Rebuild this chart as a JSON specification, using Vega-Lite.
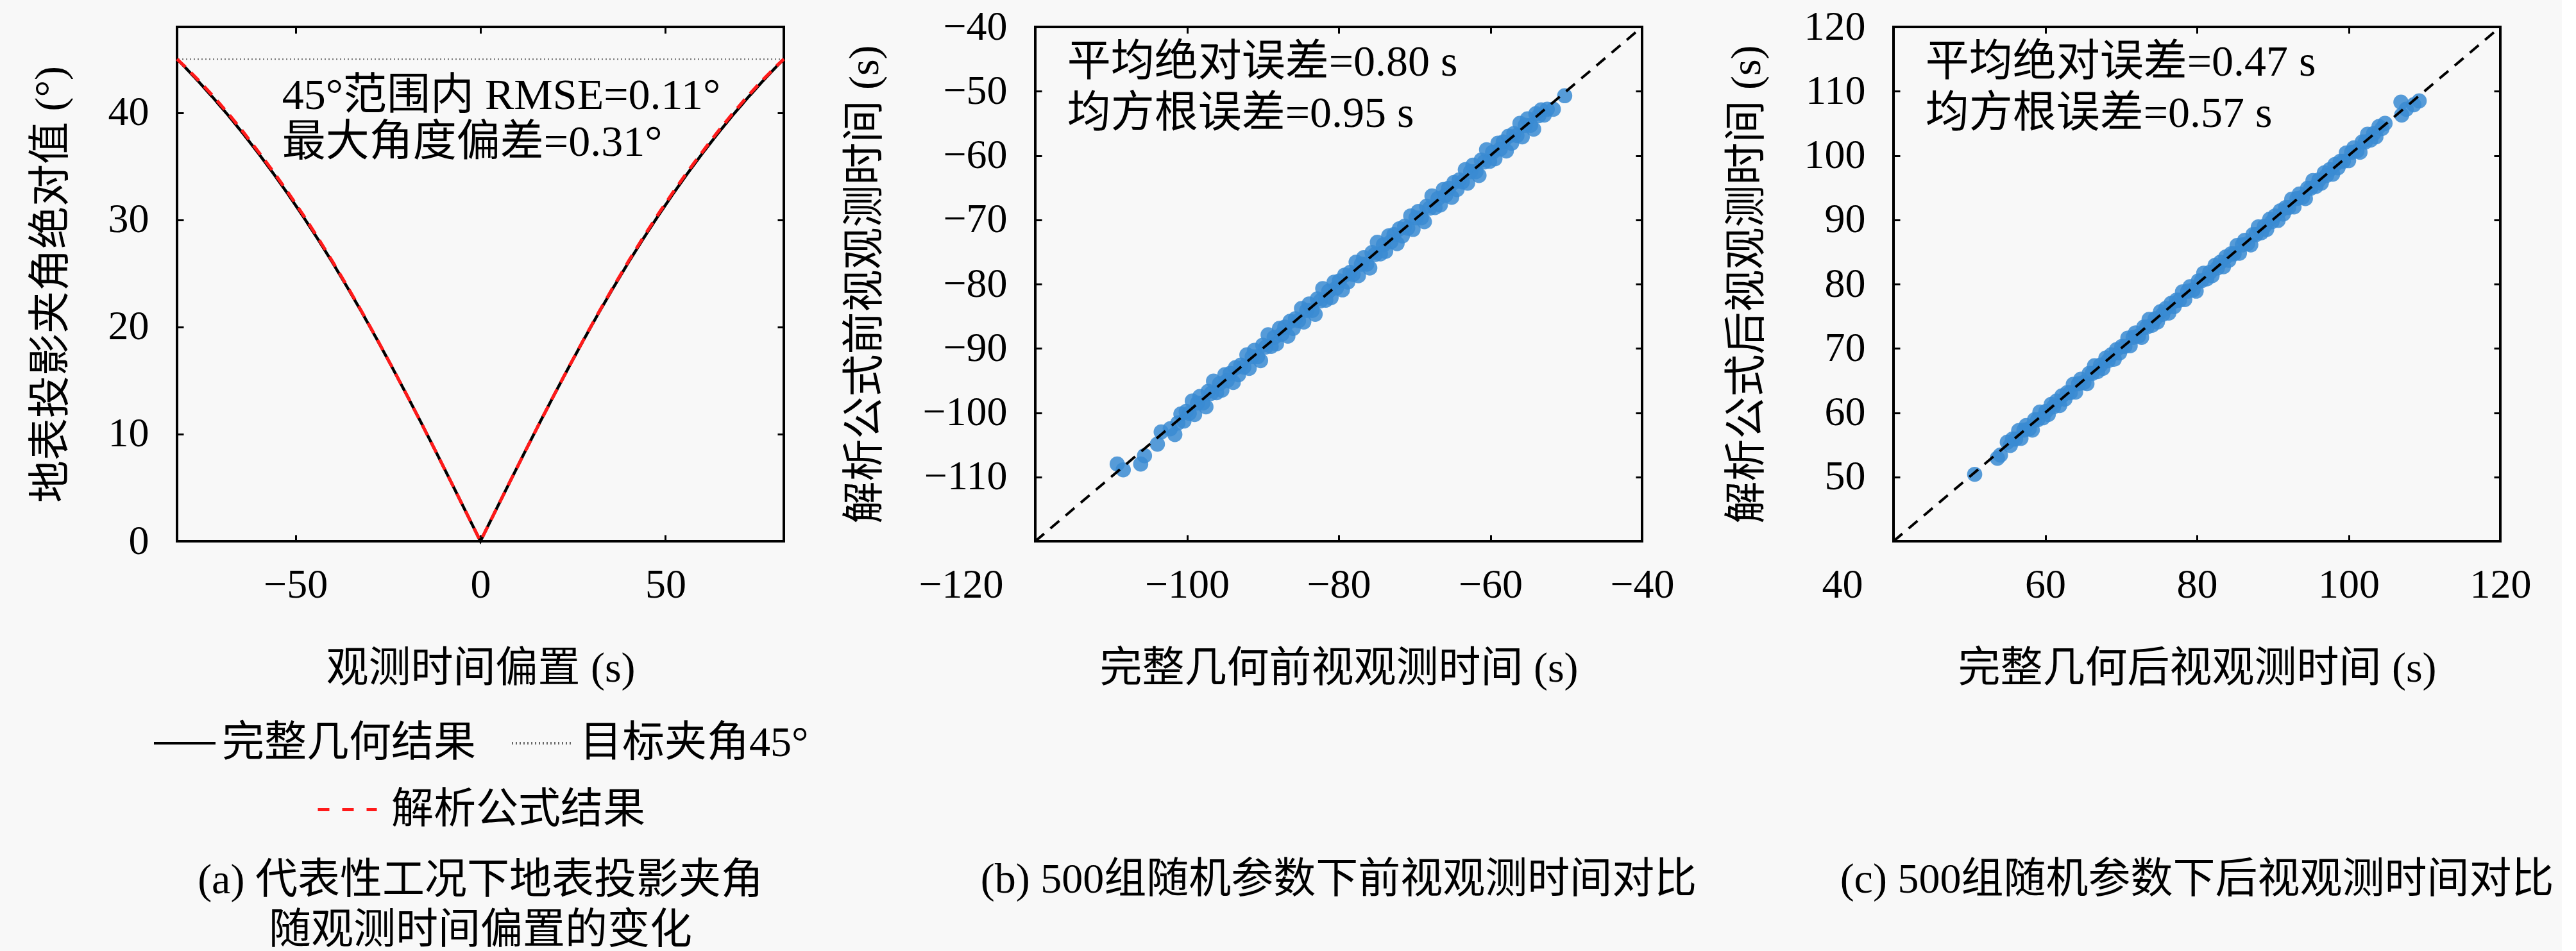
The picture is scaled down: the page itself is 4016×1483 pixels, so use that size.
{
"$schema":"https://vega.github.io/schema/vega-lite/v6.json",
"background":"#f8f8f8",
"padding":{"left":44,"top":8,"right":10,"bottom":0},
"bounds":"flush",
"spacing":392,
"resolve":{"scale":{"color":"independent","strokeDash":"independent","stroke":"independent"},"legend":{"color":"independent","strokeDash":"independent","stroke":"independent"}},
"datasets":{
"curve":[
{"x":-82,"y":45.0,"series":"完整几何结果"},{"x":-80,"y":44.30,"series":"完整几何结果"},{"x":-76,"y":42.83,"series":"完整几何结果"},{"x":-72,"y":41.29,"series":"完整几何结果"},{"x":-68,"y":39.68,"series":"完整几何结果"},{"x":-64,"y":37.98,"series":"完整几何结果"},{"x":-60,"y":36.20,"series":"完整几何结果"},{"x":-56,"y":34.34,"series":"完整几何结果"},{"x":-52,"y":32.39,"series":"完整几何结果"},{"x":-48,"y":30.35,"series":"完整几何结果"},{"x":-44,"y":28.23,"series":"完整几何结果"},{"x":-40,"y":26.02,"series":"完整几何结果"},{"x":-36,"y":23.71,"series":"完整几何结果"},{"x":-32,"y":21.33,"series":"完整几何结果"},{"x":-28,"y":18.86,"series":"完整几何结果"},{"x":-24,"y":16.32,"series":"完整几何结果"},{"x":-20,"y":13.71,"series":"完整几何结果"},{"x":-16,"y":11.05,"series":"完整几何结果"},{"x":-12,"y":8.33,"series":"完整几何结果"},{"x":-8,"y":5.57,"series":"完整几何结果"},{"x":-4,"y":2.79,"series":"完整几何结果"},{"x":0,"y":0,"series":"完整几何结果"},{"x":4,"y":2.79,"series":"完整几何结果"},{"x":8,"y":5.57,"series":"完整几何结果"},{"x":12,"y":8.33,"series":"完整几何结果"},{"x":16,"y":11.05,"series":"完整几何结果"},{"x":20,"y":13.71,"series":"完整几何结果"},{"x":24,"y":16.32,"series":"完整几何结果"},{"x":28,"y":18.86,"series":"完整几何结果"},{"x":32,"y":21.33,"series":"完整几何结果"},{"x":36,"y":23.71,"series":"完整几何结果"},{"x":40,"y":26.02,"series":"完整几何结果"},{"x":44,"y":28.23,"series":"完整几何结果"},{"x":48,"y":30.35,"series":"完整几何结果"},{"x":52,"y":32.39,"series":"完整几何结果"},{"x":56,"y":34.34,"series":"完整几何结果"},{"x":60,"y":36.20,"series":"完整几何结果"},{"x":64,"y":37.98,"series":"完整几何结果"},{"x":68,"y":39.68,"series":"完整几何结果"},{"x":72,"y":41.29,"series":"完整几何结果"},{"x":76,"y":42.83,"series":"完整几何结果"},{"x":80,"y":44.30,"series":"完整几何结果"},{"x":82,"y":45.0,"series":"完整几何结果"},
{"x":-82,"y":45.0,"series":"解析公式结果"},{"x":-80,"y":44.35,"series":"解析公式结果"},{"x":-76,"y":42.95,"series":"解析公式结果"},{"x":-72,"y":41.45,"series":"解析公式结果"},{"x":-68,"y":39.85,"series":"解析公式结果"},{"x":-64,"y":38.15,"series":"解析公式结果"},{"x":-60,"y":36.35,"series":"解析公式结果"},{"x":-56,"y":34.50,"series":"解析公式结果"},{"x":-52,"y":32.55,"series":"解析公式结果"},{"x":-48,"y":30.50,"series":"解析公式结果"},{"x":-44,"y":28.36,"series":"解析公式结果"},{"x":-40,"y":26.12,"series":"解析公式结果"},{"x":-36,"y":23.79,"series":"解析公式结果"},{"x":-32,"y":21.38,"series":"解析公式结果"},{"x":-28,"y":18.89,"series":"解析公式结果"},{"x":-24,"y":16.33,"series":"解析公式结果"},{"x":-20,"y":13.71,"series":"解析公式结果"},{"x":-16,"y":11.04,"series":"解析公式结果"},{"x":-12,"y":8.32,"series":"解析公式结果"},{"x":-8,"y":5.57,"series":"解析公式结果"},{"x":-4,"y":2.79,"series":"解析公式结果"},{"x":0,"y":0,"series":"解析公式结果"},{"x":4,"y":2.79,"series":"解析公式结果"},{"x":8,"y":5.57,"series":"解析公式结果"},{"x":12,"y":8.32,"series":"解析公式结果"},{"x":16,"y":11.04,"series":"解析公式结果"},{"x":20,"y":13.71,"series":"解析公式结果"},{"x":24,"y":16.33,"series":"解析公式结果"},{"x":28,"y":18.89,"series":"解析公式结果"},{"x":32,"y":21.38,"series":"解析公式结果"},{"x":36,"y":23.79,"series":"解析公式结果"},{"x":40,"y":26.12,"series":"解析公式结果"},{"x":44,"y":28.36,"series":"解析公式结果"},{"x":48,"y":30.50,"series":"解析公式结果"},{"x":52,"y":32.55,"series":"解析公式结果"},{"x":56,"y":34.50,"series":"解析公式结果"},{"x":60,"y":36.35,"series":"解析公式结果"},{"x":64,"y":38.15,"series":"解析公式结果"},{"x":68,"y":39.85,"series":"解析公式结果"},{"x":72,"y":41.45,"series":"解析公式结果"},{"x":76,"y":42.95,"series":"解析公式结果"},{"x":80,"y":44.35,"series":"解析公式结果"},{"x":82,"y":45.0,"series":"解析公式结果"}
],
"target":[{"y":45,"series":"目标夹角45°"}],
"one":[{"k":1}],
"diag_b":[{"x":-120,"y":-120},{"x":-40,"y":-40}],
"diag_c":[{"x":40,"y":40},{"x":120,"y":120}],
"pts_b":[
{"geo":-109.2,"ana":-108.0},{"geo":-108.4,"ana":-108.9},{"geo":-106.1,"ana":-108.0},{"geo":-105.6,"ana":-106.7},{"geo":-103.9,"ana":-104.9},{"geo":-103.4,"ana":-103.0},{"geo":-102.2,"ana":-102.5},{"geo":-101.6,"ana":-103.4},{"geo":-101.2,"ana":-101.6},
{"geo":-100.8,"ana":-100.2},{"geo":-100.4,"ana":-101.3},{"geo":-100.1,"ana":-99.8},{"geo":-99.7,"ana":-100.1},{"geo":-99.3,"ana":-98.2},{"geo":-99.0,"ana":-100.3},{"geo":-98.6,"ana":-98.5},{"geo":-98.3,"ana":-97.5},{"geo":-97.9,"ana":-98.5},{"geo":-97.5,"ana":-99.1},{"geo":-97.2,"ana":-96.7},{"geo":-96.8,"ana":-97.0},{"geo":-96.5,"ana":-95.1},{"geo":-96.1,"ana":-96.9},{"geo":-95.7,"ana":-95.5},{"geo":-95.4,"ana":-96.5},{"geo":-95.0,"ana":-94.1},{"geo":-94.7,"ana":-95.0},{"geo":-94.3,"ana":-93.9},{"geo":-93.9,"ana":-95.3},
{"geo":-93.6,"ana":-93.0},{"geo":-93.2,"ana":-94.1},{"geo":-92.9,"ana":-92.6},{"geo":-92.5,"ana":-92.9},{"geo":-92.1,"ana":-91.0},{"geo":-91.8,"ana":-93.1},{"geo":-91.4,"ana":-91.3},{"geo":-91.1,"ana":-90.3},{"geo":-90.7,"ana":-91.3},{"geo":-90.3,"ana":-91.9},{"geo":-90.0,"ana":-89.5},{"geo":-89.6,"ana":-89.8},{"geo":-89.3,"ana":-87.9},{"geo":-88.9,"ana":-89.7},{"geo":-88.5,"ana":-88.3},{"geo":-88.2,"ana":-89.3},{"geo":-87.8,"ana":-86.9},{"geo":-87.5,"ana":-87.8},{"geo":-87.1,"ana":-86.7},{"geo":-86.7,"ana":-88.1},
{"geo":-86.4,"ana":-85.8},{"geo":-86.0,"ana":-86.9},{"geo":-85.7,"ana":-85.4},{"geo":-85.3,"ana":-85.7},{"geo":-84.9,"ana":-83.8},{"geo":-84.6,"ana":-85.9},{"geo":-84.2,"ana":-84.1},{"geo":-83.9,"ana":-83.1},{"geo":-83.5,"ana":-84.1},{"geo":-83.1,"ana":-84.7},{"geo":-82.8,"ana":-82.3},{"geo":-82.4,"ana":-82.6},{"geo":-82.1,"ana":-80.7},{"geo":-81.7,"ana":-82.5},{"geo":-81.3,"ana":-81.1},{"geo":-81.0,"ana":-82.1},{"geo":-80.6,"ana":-79.7},{"geo":-80.3,"ana":-80.6},{"geo":-79.9,"ana":-79.5},{"geo":-79.5,"ana":-80.9},
{"geo":-79.2,"ana":-78.6},{"geo":-78.8,"ana":-79.7},{"geo":-78.5,"ana":-78.2},{"geo":-78.1,"ana":-78.5},{"geo":-77.7,"ana":-76.6},{"geo":-77.4,"ana":-78.7},{"geo":-77.0,"ana":-76.9},{"geo":-76.7,"ana":-75.9},{"geo":-76.3,"ana":-76.9},{"geo":-75.9,"ana":-77.5},{"geo":-75.6,"ana":-75.1},{"geo":-75.2,"ana":-75.4},{"geo":-74.9,"ana":-73.5},{"geo":-74.5,"ana":-75.3},{"geo":-74.1,"ana":-73.9},{"geo":-73.8,"ana":-74.9},{"geo":-73.4,"ana":-72.5},{"geo":-73.1,"ana":-73.4},{"geo":-72.7,"ana":-72.3},{"geo":-72.3,"ana":-73.7},
{"geo":-72.0,"ana":-71.4},{"geo":-71.6,"ana":-72.5},{"geo":-71.3,"ana":-71.0},{"geo":-70.9,"ana":-71.3},{"geo":-70.5,"ana":-69.4},{"geo":-70.2,"ana":-71.5},{"geo":-69.8,"ana":-69.7},{"geo":-69.5,"ana":-68.7},{"geo":-69.1,"ana":-69.7},{"geo":-68.7,"ana":-70.3},{"geo":-68.4,"ana":-67.9},{"geo":-68.0,"ana":-68.2},{"geo":-67.7,"ana":-66.3},{"geo":-67.3,"ana":-68.1},{"geo":-66.9,"ana":-66.7},{"geo":-66.6,"ana":-67.7},{"geo":-66.2,"ana":-65.3},{"geo":-65.9,"ana":-66.2},{"geo":-65.5,"ana":-65.1},{"geo":-65.1,"ana":-66.5},
{"geo":-64.8,"ana":-64.2},{"geo":-64.4,"ana":-65.3},{"geo":-64.1,"ana":-63.8},{"geo":-63.7,"ana":-64.1},{"geo":-63.3,"ana":-62.2},{"geo":-63.0,"ana":-64.3},{"geo":-62.6,"ana":-62.5},{"geo":-62.3,"ana":-61.5},{"geo":-61.9,"ana":-62.5},{"geo":-61.5,"ana":-63.1},{"geo":-61.2,"ana":-60.7},{"geo":-60.8,"ana":-61.0},{"geo":-60.5,"ana":-59.1},{"geo":-60.1,"ana":-60.9},{"geo":-59.7,"ana":-59.5},{"geo":-59.4,"ana":-60.5},{"geo":-59.0,"ana":-58.1},{"geo":-58.7,"ana":-59.0},{"geo":-58.3,"ana":-57.9},{"geo":-57.9,"ana":-59.3},
{"geo":-57.6,"ana":-57.0},{"geo":-57.2,"ana":-58.1},{"geo":-56.9,"ana":-56.6},{"geo":-56.5,"ana":-56.9},{"geo":-56.1,"ana":-55.0},{"geo":-55.8,"ana":-57.1},{"geo":-55.4,"ana":-55.3},{"geo":-55.1,"ana":-54.3},{"geo":-54.7,"ana":-55.3},{"geo":-54.3,"ana":-55.9},{"geo":-54.0,"ana":-53.5},{"geo":-53.6,"ana":-53.8},{"geo":-53.3,"ana":-52.9},{"geo":-52.9,"ana":-53.7},{"geo":-52.5,"ana":-52.8},{"geo":-51.7,"ana":-52.8},{"geo":-50.2,"ana":-50.7}
],
"pts_c":[
{"geo":50.7,"ana":50.4},{"geo":53.7,"ana":52.9},{"geo":54.1,"ana":53.4},
{"geo":55.0,"ana":55.4},{"geo":55.4,"ana":54.9},{"geo":55.7,"ana":55.9},{"geo":56.1,"ana":55.9},{"geo":56.5,"ana":57.2},{"geo":56.8,"ana":56.0},{"geo":57.2,"ana":57.3},{"geo":57.5,"ana":58.0},{"geo":57.9,"ana":57.5},{"geo":58.3,"ana":57.3},{"geo":58.6,"ana":58.9},{"geo":59.0,"ana":58.9},{"geo":59.3,"ana":60.1},{"geo":59.7,"ana":59.2},{"geo":60.1,"ana":60.2},{"geo":60.4,"ana":59.7},{"geo":60.8,"ana":61.3},{"geo":61.1,"ana":60.9},{"geo":61.5,"ana":61.8},{"geo":61.9,"ana":61.1},
{"geo":62.2,"ana":62.6},{"geo":62.6,"ana":62.1},{"geo":62.9,"ana":63.1},{"geo":63.3,"ana":63.1},{"geo":63.7,"ana":64.4},{"geo":64.0,"ana":63.2},{"geo":64.4,"ana":64.5},{"geo":64.7,"ana":65.2},{"geo":65.1,"ana":64.7},{"geo":65.5,"ana":64.5},{"geo":65.8,"ana":66.1},{"geo":66.2,"ana":66.1},{"geo":66.5,"ana":67.3},{"geo":66.9,"ana":66.4},{"geo":67.3,"ana":67.4},{"geo":67.6,"ana":66.9},{"geo":68.0,"ana":68.5},{"geo":68.3,"ana":68.1},{"geo":68.7,"ana":69.0},{"geo":69.1,"ana":68.3},
{"geo":69.4,"ana":69.8},{"geo":69.8,"ana":69.3},{"geo":70.1,"ana":70.3},{"geo":70.5,"ana":70.3},{"geo":70.9,"ana":71.6},{"geo":71.2,"ana":70.4},{"geo":71.6,"ana":71.7},{"geo":71.9,"ana":72.4},{"geo":72.3,"ana":71.9},{"geo":72.7,"ana":71.7},{"geo":73.0,"ana":73.3},{"geo":73.4,"ana":73.3},{"geo":73.7,"ana":74.5},{"geo":74.1,"ana":73.6},{"geo":74.5,"ana":74.6},{"geo":74.8,"ana":74.1},{"geo":75.2,"ana":75.7},{"geo":75.5,"ana":75.3},{"geo":75.9,"ana":76.2},{"geo":76.3,"ana":75.5},
{"geo":76.6,"ana":77.0},{"geo":77.0,"ana":76.5},{"geo":77.3,"ana":77.5},{"geo":77.7,"ana":77.5},{"geo":78.1,"ana":78.8},{"geo":78.4,"ana":77.6},{"geo":78.8,"ana":78.9},{"geo":79.1,"ana":79.6},{"geo":79.5,"ana":79.1},{"geo":79.9,"ana":78.9},{"geo":80.2,"ana":80.5},{"geo":80.6,"ana":80.5},{"geo":80.9,"ana":81.7},{"geo":81.3,"ana":80.8},{"geo":81.7,"ana":81.8},{"geo":82.0,"ana":81.3},{"geo":82.4,"ana":82.9},{"geo":82.7,"ana":82.5},{"geo":83.1,"ana":83.4},{"geo":83.5,"ana":82.7},
{"geo":83.8,"ana":84.2},{"geo":84.2,"ana":83.7},{"geo":84.5,"ana":84.7},{"geo":84.9,"ana":84.7},{"geo":85.3,"ana":86.0},{"geo":85.6,"ana":84.8},{"geo":86.0,"ana":86.1},{"geo":86.3,"ana":86.8},{"geo":86.7,"ana":86.3},{"geo":87.1,"ana":86.1},{"geo":87.4,"ana":87.7},{"geo":87.8,"ana":87.7},{"geo":88.1,"ana":88.9},{"geo":88.5,"ana":88.0},{"geo":88.9,"ana":89.0},{"geo":89.2,"ana":88.5},{"geo":89.6,"ana":90.1},{"geo":89.9,"ana":89.7},{"geo":90.3,"ana":90.6},{"geo":90.7,"ana":89.9},
{"geo":91.0,"ana":91.4},{"geo":91.4,"ana":90.9},{"geo":91.7,"ana":91.9},{"geo":92.1,"ana":91.9},{"geo":92.5,"ana":93.2},{"geo":92.8,"ana":92.0},{"geo":93.2,"ana":93.3},{"geo":93.5,"ana":94.0},{"geo":93.9,"ana":93.5},{"geo":94.3,"ana":93.3},{"geo":94.6,"ana":94.9},{"geo":95.0,"ana":94.9},{"geo":95.3,"ana":96.1},{"geo":95.7,"ana":95.2},{"geo":96.1,"ana":96.2},{"geo":96.4,"ana":95.7},{"geo":96.8,"ana":97.3},{"geo":97.1,"ana":96.9},{"geo":97.5,"ana":97.8},{"geo":97.9,"ana":97.1},
{"geo":98.2,"ana":98.6},{"geo":98.6,"ana":98.1},{"geo":98.9,"ana":99.1},{"geo":99.3,"ana":99.1},{"geo":99.7,"ana":100.4},{"geo":100.0,"ana":99.2},{"geo":100.4,"ana":100.5},{"geo":100.7,"ana":101.2},{"geo":101.1,"ana":100.7},{"geo":101.5,"ana":100.5},{"geo":101.8,"ana":102.1},{"geo":102.2,"ana":102.1},{"geo":102.5,"ana":103.3},{"geo":102.9,"ana":102.4},{"geo":103.3,"ana":103.4},{"geo":103.6,"ana":102.9},{"geo":104.0,"ana":104.5},{"geo":104.4,"ana":104.2},{"geo":104.8,"ana":105.0},
{"geo":106.9,"ana":108.3},{"geo":107.0,"ana":106.3},{"geo":107.6,"ana":107.2},{"geo":108.6,"ana":107.9},{"geo":109.3,"ana":108.5}
]
},
"hconcat":[
{
"width":946,"height":802,
"title":{"text":["(a) 代表性工况下地表投影夹角","随观测时间偏置的变化"],"orient":"bottom","offset":45,"lineHeight":78},
"resolve":{"axis":{"x":"independent","y":"independent"}},
"layer":[
{"data":{"name":"curve"},"transform":[{"filter":"datum.series == '完整几何结果'"}],
 "mark":{"type":"line","strokeWidth":4.5},
 "encoding":{
  "x":{"field":"x","type":"quantitative","scale":{"domain":[-82,82],"nice":false,"zero":false},"axis":{"title":"观测时间偏置 (s)","values":[-50,0,50]}},
  "y":{"field":"y","type":"quantitative","scale":{"domain":[0,48],"nice":false},"axis":{"title":"地表投影夹角绝对值 (°)","values":[0,10,20,30,40]}},
  "color":{"field":"series","type":"nominal","scale":{"domain":["完整几何结果","目标夹角45°"],"range":["#000000","#666666"]},
   "legend":{"title":null,"orient":"bottom","direction":"horizontal","symbolType":"stroke","symbolSize":9216,"symbolStrokeWidth":4,"labelOffset":8,"columnPadding":48,"offset":34,"labelLimit":0}},
  "strokeDash":{"field":"series","type":"nominal","scale":{"domain":["完整几何结果","目标夹角45°"],"range":[[1,0],[2,4]]},
   "legend":{"title":null,"orient":"bottom","direction":"horizontal","symbolType":"stroke","symbolSize":9216,"symbolStrokeWidth":4,"labelOffset":8,"columnPadding":48,"offset":34,"labelLimit":0}}
 }},
{"data":{"name":"target"},
 "mark":{"type":"rule","strokeWidth":2},
 "encoding":{
  "y":{"field":"y","type":"quantitative","axis":null},
  "color":{"field":"series","type":"nominal"},
  "strokeDash":{"field":"series","type":"nominal"}
 }},
{"data":{"name":"curve"},"transform":[{"filter":"datum.series == '解析公式结果'"}],
 "mark":{"type":"line","strokeWidth":5,"strokeDash":[18,12]},
 "encoding":{
  "x":{"field":"x","type":"quantitative","axis":null},
  "y":{"field":"y","type":"quantitative","axis":null},
  "stroke":{"field":"series","type":"nominal","scale":{"domain":["解析公式结果"],"range":["#ff1a1a"]},
   "legend":{"title":null,"orient":"bottom","direction":"horizontal","symbolType":"stroke","symbolSize":8464,"symbolStrokeWidth":5,"symbolDash":[18,20],"labelOffset":20,"offset":34,"labelLimit":0}}
 }},
{"data":{"name":"one"},
 "mark":{"type":"text","text":["45°范围内 RMSE=0.11°","最大角度偏差=0.31°"],"align":"left","baseline":"top","fontSize":68,"lineHeight":73,"font":"Liberation Serif, Noto Sans CJK SC","color":"black"},
 "encoding":{
  "x":{"datum":-53.6,"type":"quantitative","axis":{"orient":"top","labels":false,"title":null,"values":[-50,0,50]}},
  "y":{"datum":43.6,"type":"quantitative","axis":{"orient":"right","labels":false,"title":null,"values":[0,10,20,30,40]}}
 }}
]
},
{
"width":946,"height":802,
"title":{"text":"(b) 500组随机参数下前视观测时间对比","orient":"bottom","offset":265},
"resolve":{"axis":{"x":"independent","y":"independent"}},
"layer":[
{"data":{"name":"pts_b"},
 "mark":{"type":"point","filled":true,"size":560,"color":"#3a8bd2","opacity":0.85},
 "encoding":{
  "x":{"field":"geo","type":"quantitative","scale":{"domain":[-120,-40],"nice":false,"zero":false},
   "axis":{"title":"完整几何前视观测时间 (s)","values":[-120,-100,-80,-60,-40],
    "labelAlign":{"condition":{"test":"datum.value == -120","value":"right"},"value":"center"},
    "labelOffset":{"condition":{"test":"datum.value == -120","value":-50},"value":0}}},
  "y":{"field":"ana","type":"quantitative","scale":{"domain":[-120,-40],"nice":false,"zero":false},
   "axis":{"title":"解析公式前视观测时间 (s)","values":[-110,-100,-90,-80,-70,-60,-50,-40]}}
 }},
{"data":{"name":"diag_b"},
 "mark":{"type":"line","color":"black","strokeWidth":4,"strokeDash":[18,13]},
 "encoding":{"x":{"field":"x","type":"quantitative","axis":null},"y":{"field":"y","type":"quantitative","axis":null}}},
{"data":{"name":"one"},
 "mark":{"type":"text","text":["平均绝对误差=0.80 s","均方根误差=0.95 s"],"align":"left","baseline":"top","fontSize":68,"lineHeight":80,"font":"Liberation Serif, Noto Sans CJK SC","color":"black"},
 "encoding":{
  "x":{"datum":-115.8,"type":"quantitative","axis":{"orient":"top","labels":false,"title":null,"values":[-100,-80,-60]}},
  "y":{"datum":-42.2,"type":"quantitative","axis":{"orient":"right","labels":false,"title":null,"values":[-110,-100,-90,-80,-70,-60,-50]}}
 }}
]
},
{
"width":946,"height":802,
"title":{"text":"(c) 500组随机参数下后视观测时间对比","orient":"bottom","offset":265},
"resolve":{"axis":{"x":"independent","y":"independent"}},
"layer":[
{"data":{"name":"pts_c"},
 "mark":{"type":"point","filled":true,"size":560,"color":"#3a8bd2","opacity":0.85},
 "encoding":{
  "x":{"field":"geo","type":"quantitative","scale":{"domain":[40,120],"nice":false,"zero":false},
   "axis":{"title":"完整几何后视观测时间 (s)","values":[40,60,80,100,120],
    "labelAlign":{"condition":{"test":"datum.value == 40","value":"right"},"value":"center"},
    "labelOffset":{"condition":{"test":"datum.value == 40","value":-48},"value":0}}},
  "y":{"field":"ana","type":"quantitative","scale":{"domain":[40,120],"nice":false,"zero":false},
   "axis":{"title":"解析公式后视观测时间 (s)","values":[50,60,70,80,90,100,110,120]}}
 }},
{"data":{"name":"diag_c"},
 "mark":{"type":"line","color":"black","strokeWidth":4,"strokeDash":[18,13]},
 "encoding":{"x":{"field":"x","type":"quantitative","axis":null},"y":{"field":"y","type":"quantitative","axis":null}}},
{"data":{"name":"one"},
 "mark":{"type":"text","text":["平均绝对误差=0.47 s","均方根误差=0.57 s"],"align":"left","baseline":"top","fontSize":68,"lineHeight":80,"font":"Liberation Serif, Noto Sans CJK SC","color":"black"},
 "encoding":{
  "x":{"datum":44.2,"type":"quantitative","axis":{"orient":"top","labels":false,"title":null,"values":[60,80,100]}},
  "y":{"datum":117.8,"type":"quantitative","axis":{"orient":"right","labels":false,"title":null,"values":[50,60,70,80,90,100,110]}}
 }}
]
}
],
"config":{
 "view":{"stroke":"black","strokeWidth":4,"fill":null},
 "axis":{"domain":false,"ticks":true,"tickSize":-10,"tickWidth":3,"tickColor":"black","grid":false,"labelFont":"Liberation Serif","labelFontSize":64,"labelColor":"black","labelPadding":46,"labelFlush":false,"labelOverlap":false,"titleFont":"Liberation Serif, Noto Sans CJK SC","titleFontSize":66,"titleFontWeight":"normal","titleColor":"black","titlePadding":50},
 "axisX":{"titlePadding":66},
 "axisY":{"labelPadding":54,"titlePadding":55},
 "legend":{"labelFont":"Liberation Serif, Noto Sans CJK SC","labelFontSize":66,"labelColor":"black","layout":{"bottom":{"anchor":"middle","direction":"vertical","center":true,"margin":22}}},
 "title":{"font":"Liberation Serif, Noto Sans CJK SC","fontSize":66,"fontWeight":"normal","color":"black","anchor":"middle"}
}
}
